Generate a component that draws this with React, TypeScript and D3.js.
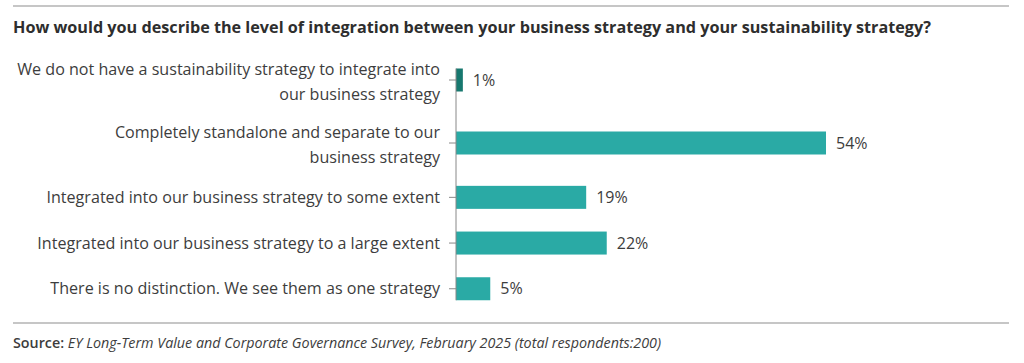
import React from "react";
import * as d3 from "d3";

const title =
  "How would you describe the level of integration between your business strategy and your sustainability strategy?";
const categories: string[][] = [
  ["We do not have a sustainability strategy to integrate into", "our business strategy"],
  ["Completely standalone and separate to our", "business strategy"],
  ["Integrated into our business strategy to some extent"],
  ["Integrated into our business strategy to a large extent"],
  ["There is no distinction. We see them as one strategy"],
];
const values = [1, 54, 19, 22, 5];
const valueLabels = ["1%", "54%", "19%", "22%", "5%"];
const sourceLabel = "Source:";
const sourceText =
  "EY Long-Term Value and Corporate Governance Survey, February 2025 (total respondents:200)";

const W = 1024;
const H = 363;
const FONT = "'Open Sans', sans-serif";
const TEXT = "#3d3d3d";
const BAR = "#2aaaa5";
const BAR_DARK = "#17786f";

export default function App() {
  const axisX = 456;
  const x = d3.scaleLinear().domain([0, 54]).range([axisX, 826]);
  const rowH = categories.map((c) => (c.length > 1 ? 63 : 45.7));
  const starts = [0, ...Array.from(d3.cumsum(rowH))];
  const top = 48.5;
  const centers = rowH.map((h, i) => top + starts[i] + h / 2);
  const barH = 23;
  const lineH = 25;
  const axisTop = centers[0] - barH / 2;
  const axisBottom = centers[centers.length - 1] + barH / 2;

  return (
    <svg
      width={W}
      height={H}
      style={{ position: "absolute", left: 0, top: 0, background: "#fff" }}
      fontFamily={FONT}
    >
      <line x1={13} x2={1009} y1={6} y2={6} stroke="#b3b3b3" strokeWidth={1.5} />
      <text x={13} y={33} fontSize={16.2} fontWeight={700} fill="#2e2e2e">
        {title}
      </text>

      {categories.map((lines, i) => {
        const cy = centers[i];
        const n = lines.length;
        const shift = n > 1 ? 2 : 0;
        return (
          <g key={i}>
            {lines.map((l, j) => (
              <text
                key={j}
                x={440}
                y={cy + shift + (j - (n - 1) / 2) * lineH}
                dy="0.35em"
                textAnchor="end"
                fontSize={16.1}
                fill={TEXT}
              >
                {l}
              </text>
            ))}
            <line x1={449} x2={axisX} y1={cy} y2={cy} stroke="#888" strokeWidth={1} />
            <rect
              x={x(0)}
              y={cy - barH / 2}
              width={x(values[i]) - x(0)}
              height={barH}
              fill={i === 0 ? BAR_DARK : BAR}
            />
            <text
              x={x(values[i]) + 10}
              y={cy}
              dy="0.35em"
              fontSize={16}
              fill={TEXT}
            >
              {valueLabels[i]}
            </text>
          </g>
        );
      })}
      <line x1={axisX} x2={axisX} y1={axisTop} y2={axisBottom} stroke="#888" strokeWidth={1} />

      <line x1={13} x2={1009} y1={323} y2={323} stroke="#b3b3b3" strokeWidth={1.5} />
      <text x={13} y={348} fontSize={14.3} fill={TEXT}>
        <tspan fontWeight={600}>{sourceLabel}</tspan>
        <tspan fontStyle="italic"> {sourceText}</tspan>
      </text>
    </svg>
  );
}
